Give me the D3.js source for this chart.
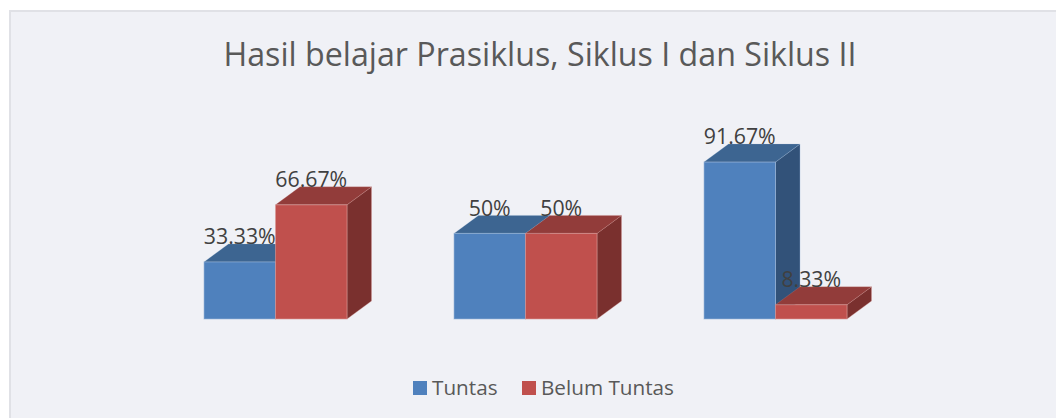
<!DOCTYPE html>
<html>
<head>
<meta charset="utf-8">
<script src="https://cdnjs.cloudflare.com/ajax/libs/d3/7.8.5/d3.min.js"></script>
<style>
  html, body { margin: 0; padding: 0; background: #fff; }
  svg { display: block; }
  text { font-family: "Open Sans", sans-serif; }
</style>
</head>
<body>
<div id="chart"></div>
<script>
const categories = ["Prasiklus", "Siklus I", "Siklus II"];
const seriesNames = ["Tuntas", "Belum Tuntas"];
const tuntas = [33.33, 50, 91.67];
const belumTuntas = [66.67, 50, 8.33];
const valueLabels = [["33.33%", "50%", "91.67%"], ["66.67%", "50%", "8.33%"]];
const titleText = "Hasil belajar Prasiklus, Siklus I dan Siklus II";

const width = 1056, height = 418;
const depthX = 24.5, depthY = 18;
const colors = [
  {front: "#4f81bd", top: "#3d6591", side: "#325279", edge: "#9db8d9"},
  {front: "#c0504d", top: "#923c3a", side: "#7a302e", edge: "#d89a98"}
];

const svg = d3.select("#chart").append("svg")
    .attr("width", width)
    .attr("height", height);

// chart area, the panel runs off the right and bottom of the picture
svg.append("rect")
    .attr("x", 10).attr("y", 11)
    .attr("width", width).attr("height", height)
    .attr("fill", "#f0f1f6")
    .attr("stroke", "#e0e1e6")
    .attr("stroke-width", 2);

svg.append("text")
    .attr("x", 540).attr("y", 66)
    .attr("text-anchor", "middle")
    .attr("font-size", 32.2)
    .attr("fill", "#595959")
    .text(titleText);

const x0 = d3.scaleBand().domain(categories).range([150.5, 900.5]);
const x1 = d3.scaleBand().domain(seriesNames).range([53.5, 196.5]);
const y = d3.scaleLinear().domain([0, 100]).range([319, 147.8]);

const rows = categories.map((c, i) => ({
  category: c,
  bars: [
    {series: 0, name: seriesNames[0], value: tuntas[i], label: valueLabels[0][i]},
    {series: 1, name: seriesNames[1], value: belumTuntas[i], label: valueLabels[1][i]}
  ]
}));

const groups = svg.selectAll(".group")
    .data(rows)
    .enter().append("g")
    .attr("class", "group")
    .attr("transform", d => "translate(" + x0(d.category) + ",0)");

const bars = groups.selectAll(".bar")
    .data(d => d.bars)
    .enter().append("g")
    .attr("class", "bar");

const w = x1.bandwidth();

bars.append("path")
    .attr("fill", d => colors[d.series].side)
    .attr("stroke", d => colors[d.series].edge)
    .attr("stroke-opacity", 0.35)
    .attr("d", d => {
      const l = x1(d.name) + w, t = y(d.value), b = y(0);
      return "M" + l + "," + t + "l" + depthX + "," + (-depthY) + "L" + (l + depthX) + "," + (b - depthY) + "L" + l + "," + b + "Z";
    });

bars.append("path")
    .attr("fill", d => colors[d.series].top)
    .attr("stroke", d => colors[d.series].edge)
    .attr("stroke-opacity", 0.2)
    .attr("d", d => {
      const l = x1(d.name), t = y(d.value);
      return "M" + l + "," + t + "l" + depthX + "," + (-depthY) + "h" + w + "l" + (-depthX) + "," + depthY + "Z";
    });

bars.append("rect")
    .attr("x", d => x1(d.name))
    .attr("y", d => y(d.value))
    .attr("width", w)
    .attr("height", d => y(0) - y(d.value))
    .attr("fill", d => colors[d.series].front)
    .attr("stroke", d => colors[d.series].edge)
    .attr("stroke-opacity", 0.6);

// labels on top of all the bars
groups.selectAll(".value")
    .data(d => d.bars)
    .enter().append("text")
    .attr("class", "value")
    .attr("x", d => x1(d.name) + w / 2)
    .attr("y", d => y(d.value) - 17.7)
    .attr("text-anchor", "middle")
    .attr("font-size", 21.3)
    .attr("fill", "#404040")
    .text(d => d.label);

const legendX = [413, 522];
const legend = svg.selectAll(".legend")
    .data(seriesNames)
    .enter().append("g")
    .attr("class", "legend")
    .attr("transform", (d, i) => "translate(" + legendX[i] + ",381)");

legend.append("rect")
    .attr("width", 14).attr("height", 14)
    .attr("fill", (d, i) => colors[i].front);

legend.append("text")
    .attr("x", 19).attr("y", 14)
    .attr("font-size", 20.7)
    .attr("fill", "#595959")
    .text(d => d);
</script>
</body>
</html>
